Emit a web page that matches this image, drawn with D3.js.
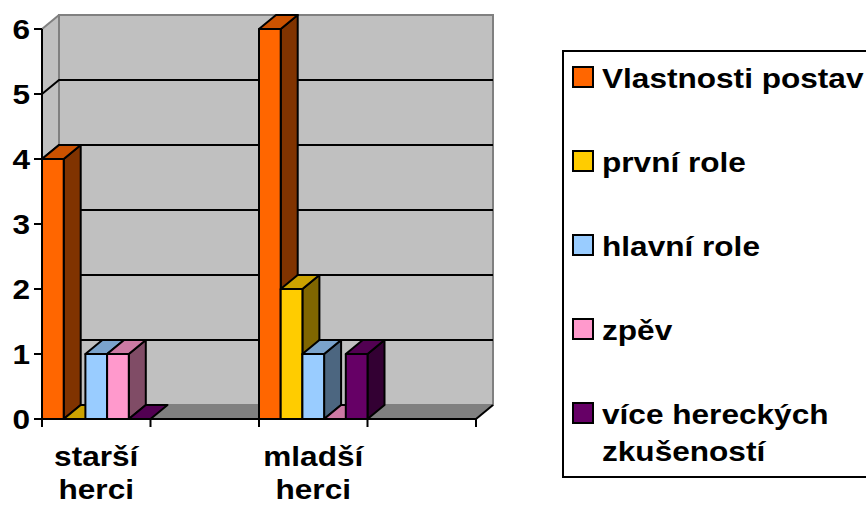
<!DOCTYPE html>
<html><head><meta charset="utf-8">
<script src="https://cdn.jsdelivr.net/npm/d3@7"></script>
<style>body{margin:0;background:#fff}svg{display:block}</style>
</head><body>
<svg id="c" width="866" height="506"></svg>
<script>
const categories = ["starší herci", "", "mladší herci", ""];
const seriesNames = ["Vlastnosti postav", "první role", "hlavní role", "zpěv", "více hereckých zkušeností"];
const vlastnostiPostav = [4, null, 6, null];
const prvniRole = [0, null, 2, null];
const hlavniRole = [1, null, 1, null];
const zpev = [1, null, 0, null];
const viceZkusenosti = [0, null, 1, null];
const yTicks = [0, 1, 2, 3, 4, 5, 6];
const frontColors = ["#FF6600", "#FFCC00", "#99CCFF", "#FF99CC", "#660066"];
const topColors = ["#CC5200", "#CCA300", "#7AA3CC", "#CC7AA3", "#520052"];
const sideColors = ["#803300", "#806600", "#4C6680", "#804C66", "#330033"];

const seriesValues = [vlastnostiPostav, prvniRole, hlavniRole, zpev, viceZkusenosti];
const svg = d3.select("#c");
const FONT = "'Liberation Sans', Arial, sans-serif";
const SX = 1.17;
const DX = 17, DY = -14;
const x0 = 42, x1 = 476, yb = 419, yt = 29;

const x = d3.scaleBand().domain(d3.range(categories.length)).range([x0, x1]).padding(0);
const xs = d3.scaleBand().domain(d3.range(seriesNames.length)).range([0, x.bandwidth()]).padding(0);
const y = d3.scaleLinear().domain([0, 6]).range([yb, yt]);

const poly = pts => "M" + pts.map(p => p.join(",")).join("L") + "Z";

// side wall (left)
svg.append("path").attr("d", poly([[x0, yt], [x0 + DX, yt + DY], [x0 + DX, yb + DY], [x0, yb]]))
  .attr("fill", "#C0C0C0").attr("stroke", "none");
// back wall
svg.append("path").attr("d", poly([[x0 + DX, yt + DY], [x1 + DX, yt + DY], [x1 + DX, yb + DY], [x0 + DX, yb + DY]]))
  .attr("fill", "#C0C0C0").attr("stroke", "#808080").attr("stroke-width", 2);
svg.append("path").attr("d", `M${x0},${yt}L${x0 + DX},${yt + DY}`).attr("stroke", "#808080").attr("stroke-width", 2);
// floor
svg.append("path").attr("d", poly([[x0, yb], [x1, yb], [x1 + DX, yb + DY], [x0 + DX, yb + DY]]))
  .attr("fill", "#808080").attr("stroke", "none");
svg.append("path").attr("d", `M${x1},${yb}L${x1 + DX},${yb + DY}`).attr("stroke", "#000").attr("stroke-width", 2);

// gridlines
const grid = svg.append("g");
yTicks.filter(t => t > 0 && t < 6).forEach(t => {
  grid.append("path").attr("d", `M${x0},${y(t)}L${x0 + DX},${y(t) + DY}L${x1 + DX},${y(t) + DY}`)
    .attr("fill", "none").attr("stroke", "#000").attr("stroke-width", 2);
});

// bars
const bars = svg.append("g");
categories.forEach((c, ci) => {
  seriesValues.forEach((vals, si) => {
    const v = vals[ci];
    if (v === null || v === undefined) return;
    const l = x(ci) + xs(si), r = l + xs.bandwidth();
    const top = y(v), bot = y(0);
    if (v > 0) {
      bars.append("path").attr("d", poly([[r, top], [r + DX, top + DY], [r + DX, bot + DY], [r, bot]]))
        .attr("fill", sideColors[si]).attr("stroke", "#000").attr("stroke-width", 2).attr("stroke-linejoin", "round");
    }
    bars.append("path").attr("d", poly([[l, top], [r, top], [r + DX, top + DY], [l + DX, top + DY]]))
      .attr("fill", topColors[si]).attr("stroke", "#000").attr("stroke-width", 2).attr("stroke-linejoin", "round");
    if (v > 0) {
      bars.append("path").attr("d", poly([[l, top], [r, top], [r, bot], [l, bot]]))
        .attr("fill", frontColors[si]).attr("stroke", "#000").attr("stroke-width", 2).attr("stroke-linejoin", "round");
    }
  });
});

// axes
const ax = svg.append("g");
ax.append("path").attr("d", `M${x0},${yt}L${x0},${yb}`).attr("stroke", "#000").attr("stroke-width", 2);
ax.append("path").attr("d", `M${x0},${yb}L${x1},${yb}`).attr("stroke", "#000").attr("stroke-width", 2);
yTicks.forEach(t => {
  ax.append("path").attr("d", `M${x0 - 8},${y(t)}L${x0},${y(t)}`).attr("stroke", "#000").attr("stroke-width", 2);
  ax.append("text").attr("transform", `translate(30,${y(t) + 10}) scale(${SX},1)`)
    .attr("text-anchor", "end").attr("font-family", FONT).attr("font-weight", "bold")
    .attr("font-size", 27).attr("fill", "#000").text(t);
});
const xTickPos = d3.range(categories.length + 1).map(i => i < categories.length ? x(i) : x1);
xTickPos.forEach(px => {
  ax.append("path").attr("d", `M${px},${yb}L${px},${yb + 8}`).attr("stroke", "#000").attr("stroke-width", 2);
});
categories.forEach((c, ci) => {
  if (!c) return;
  const cx = x(ci) + x.bandwidth() / 2;
  c.split(" ").forEach((w, li) => {
    ax.append("text").attr("transform", `translate(${cx},${466 + li * 33}) scale(${SX},1)`)
      .attr("text-anchor", "middle").attr("font-family", FONT).attr("font-weight", "bold")
      .attr("font-size", 27).attr("fill", "#000").text(w);
  });
});

// legend
const lg = svg.append("g");
lg.append("rect").attr("x", 563).attr("y", 51).attr("width", 330).attr("height", 426)
  .attr("fill", "#fff").attr("stroke", "#000").attr("stroke-width", 2);
seriesNames.forEach((name, si) => {
  const base = 88 + si * 84;
  lg.append("rect").attr("x", 573).attr("y", base - 21).attr("width", 20).attr("height", 20)
    .attr("fill", frontColors[si]).attr("stroke", "#000").attr("stroke-width", 2);
  const lines = si === 4 ? ["více hereckých", "zkušeností"] : [name];
  lines.forEach((ln, li) => {
    lg.append("text").attr("transform", `translate(602,${base + li * 37}) scale(${SX},1)`)
      .attr("font-family", FONT).attr("font-weight", "bold").attr("font-size", 27)
      .attr("fill", "#000").text(ln);
  });
});
</script>
</body></html>
